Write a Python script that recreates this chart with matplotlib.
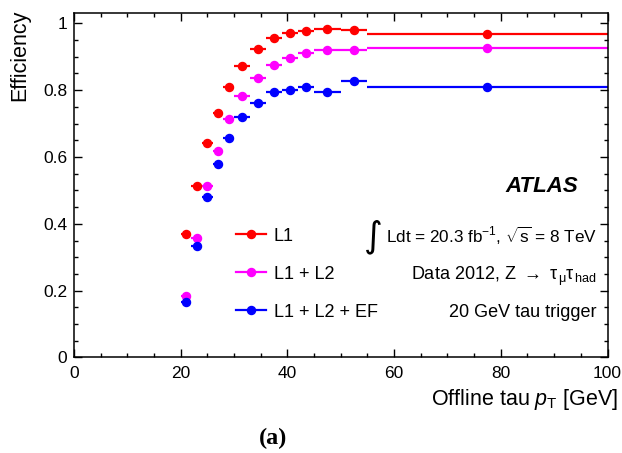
import matplotlib
matplotlib.use("Agg")
import matplotlib.pyplot as plt
from matplotlib.ticker import MultipleLocator
from matplotlib.lines import Line2D
import numpy as np

plt.rcParams['font.family'] = ['Liberation Sans', 'DejaVu Sans']
plt.rcParams['mathtext.fontset'] = 'custom'
plt.rcParams['mathtext.rm'] = 'Liberation Sans'
plt.rcParams['mathtext.it'] = 'Liberation Sans:italic'
plt.rcParams['mathtext.bf'] = 'Liberation Sans:bold'

# Bin edges (offline tau pT, GeV)
bin_lo = [20, 22, 24, 26, 28, 30, 33, 36, 39, 42, 45, 50, 55]
bin_hi = [22, 24, 26, 28, 30, 33, 36, 39, 42, 45, 50, 55, 100]

eff_l1 = [0.369, 0.513, 0.641, 0.731, 0.811, 0.871, 0.924, 0.957, 0.972, 0.977, 0.982, 0.979, 0.969]
eff_l1l2 = [0.184, 0.358, 0.513, 0.619, 0.713, 0.784, 0.837, 0.875, 0.895, 0.910, 0.920, 0.920, 0.927]
eff_l1l2ef = [0.166, 0.333, 0.479, 0.578, 0.656, 0.719, 0.761, 0.795, 0.802, 0.810, 0.796, 0.827, 0.810]
err_y = [0.006, 0.006, 0.006, 0.006, 0.005, 0.005, 0.005, 0.004, 0.004, 0.004, 0.004, 0.005, 0.004]

labels = ["L1", "L1 + L2", "L1 + L2 + EF"]
colors = ["#ff0000", "#ff00ff", "#0000ff"]

fig = plt.figure(figsize=(6.22, 4.53), dpi=100)
ax = fig.add_axes([0.119, 0.211, 0.8577, 0.761])

lo = np.array(bin_lo, float)
hi = np.array(bin_hi, float)
xc = (lo + hi) / 2
xerr = (hi - lo) / 2

handles = []
for vals, lab, col in zip([eff_l1, eff_l1l2, eff_l1l2ef], labels, colors):
    ax.errorbar(xc, vals, xerr=xerr, yerr=err_y, fmt='o', color=col,
                ms=5.8, elinewidth=1.6, capsize=0)
    handles.append(Line2D([], [], color=col, marker='o', ms=5.8, lw=1.6))

ax.set_xlim(0, 100)
ax.set_ylim(0, 1.032)
ax.xaxis.set_major_locator(MultipleLocator(20))
ax.xaxis.set_minor_locator(MultipleLocator(5))
ax.yaxis.set_minor_locator(MultipleLocator(0.05))
ax.set_yticks([0, 0.2, 0.4, 0.6, 0.8, 1.0])
ax.set_yticklabels(["0", "0.2", "0.4", "0.6", "0.8", "1"])
ax.tick_params(which='both', direction='in', top=True, right=True, labelsize=12.5, width=1)
ax.tick_params(which='major', length=6)
ax.tick_params(which='minor', length=3)
ax.tick_params(axis='x', which='major', pad=6.5)
ax.tick_params(axis='y', which='major', pad=5)
for s in ax.spines.values():
    s.set_linewidth(1.1)

ax.set_xlabel(r"Offline tau $p_{\mathrm{T}}$ [GeV]", fontsize=15.5, loc='right', va='top')
ax.xaxis.set_label_coords(1.0197, -0.087)
ax.set_ylabel("Efficiency", fontsize=15.5, loc='top')
ax.yaxis.set_label_coords(-0.0825, 1.008)

leg = ax.legend(handles=handles, labels=labels, loc='upper left', bbox_to_anchor=(0.2728, 0.424),
                frameon=False, fontsize=13, handlelength=1.7, labelspacing=1.17, handletextpad=0.4)

ax.text(0.945, 0.481, "ATLAS", transform=ax.transAxes, ha='right', va='baseline',
        fontsize=16, fontweight='bold', fontstyle='italic')
ax.text(0.980, 0.332, r"Ldt = 20.3 fb$^{-1}$, $\sqrt{\mathrm{s}}$ = 8 TeV", transform=ax.transAxes,
        ha='right', va='baseline', fontsize=12.3)
ax.text(0.562, 0.351, "\u222b", transform=ax.transAxes, ha='center', va='center',
        fontsize=26, family='DejaVu Sans')
ax.text(0.980, 0.2245, "Data 2012, Z $\\rightarrow$ \u03c4$_{\\,\\mathrm{\u03bc}}$\u03c4$_{\\,\\mathrm{had}}$",
        transform=ax.transAxes, ha='right', va='baseline', fontsize=13)
ax.text(0.980, 0.118, "20 GeV tau trigger", transform=ax.transAxes,
        ha='right', va='baseline', fontsize=13)

fig.text(0.439, 0.033, "(a)", ha='center', va='center', fontsize=17.5,
         family='Liberation Serif', fontweight='bold')

fig.savefig("out.png", dpi=100)
